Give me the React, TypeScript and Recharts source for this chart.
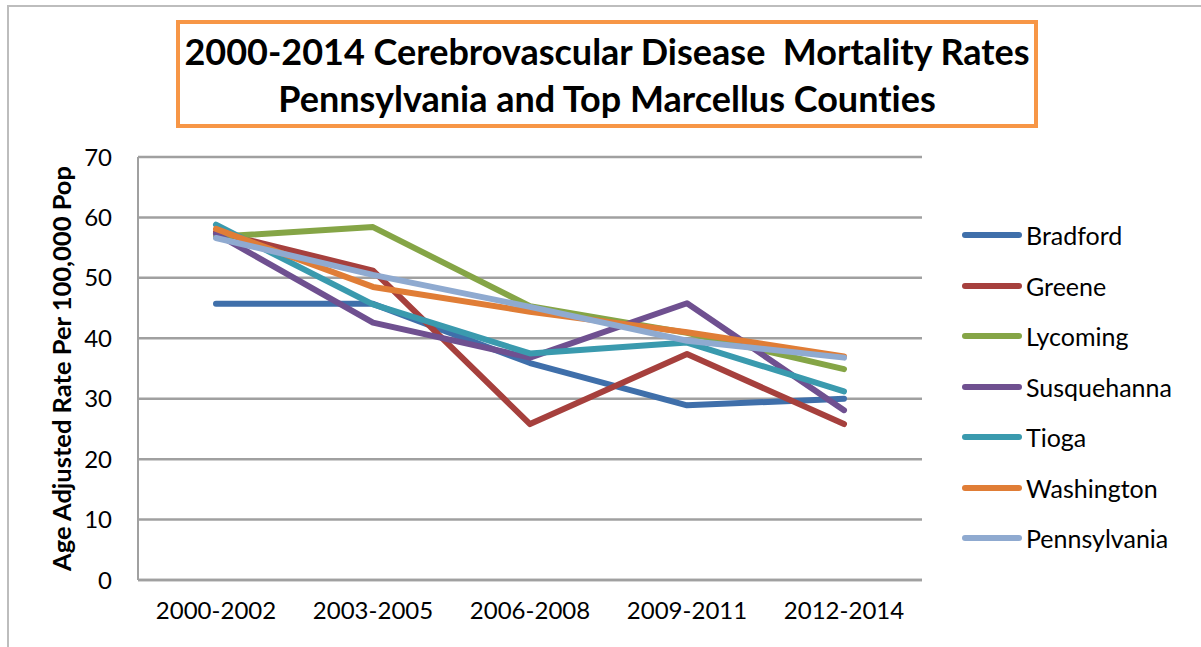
import React from 'react';
import { LineChart, Line, XAxis, YAxis, CartesianGrid, Label } from 'recharts';

const periods = ['2000-2002', '2003-2005', '2006-2008', '2009-2011', '2012-2014'];

const bradford = [45.7, 45.7, 35.9, 28.9, 30.0];
const greene = [57.6, 51.2, 25.8, 37.4, 25.8];
const lycoming = [56.8, 58.4, 45.3, 40.9, 34.9];
const susquehanna = [57.3, 42.6, 36.8, 45.8, 28.1];
const tioga = [58.8, 45.6, 37.5, 39.3, 31.2];
const washington = [58.1, 48.5, 44.4, 41.0, 37.0];
const pennsylvania = [56.6, 50.5, 45.2, 39.6, 36.8];

const yTicks = [0, 10, 20, 30, 40, 50, 60, 70];

const seriesList = [
  { key: 'Bradford', values: bradford, color: '#3F6FAA' },
  { key: 'Greene', values: greene, color: '#A6403D' },
  { key: 'Lycoming', values: lycoming, color: '#85A546' },
  { key: 'Susquehanna', values: susquehanna, color: '#6F5090' },
  { key: 'Tioga', values: tioga, color: '#3A9AAE' },
  { key: 'Washington', values: washington, color: '#E07D36' },
  { key: 'Pennsylvania', values: pennsylvania, color: '#8FAAD0' },
];

const data = periods.map((p, i) => {
  const row: Record<string, string | number> = { period: p };
  seriesList.forEach((s) => {
    row[s.key] = s.values[i];
  });
  return row;
});

const FONT = 'Lato, "Open Sans", sans-serif';

const ChartLegend = () => (
  <div style={{ position: 'absolute', left: 962, top: 210, fontFamily: FONT, fontVariantLigatures: 'none' }}>
    {seriesList.map((s) => (
      <div key={s.key} style={{ display: 'flex', alignItems: 'center', height: 50.5 }}>
        <div style={{ width: 60, height: 6, borderRadius: 3, backgroundColor: s.color }} />
        <span style={{ fontSize: 25, marginLeft: 4, color: '#000' }}>{s.key}</span>
      </div>
    ))}
  </div>
);

export default function App() {
  return (
    <div style={{ position: 'fixed', left: 0, top: 0, width: 1201, height: 647, background: '#fff', overflow: 'hidden' }}>
      <div style={{ position: 'absolute', left: 7, top: 5, width: 1300, height: 800, borderTop: '2px solid #bdbdbd', borderLeft: '2px solid #bdbdbd' }} />
      <div
        style={{
          position: 'absolute', left: 176, top: 20, width: 862, height: 108, boxSizing: 'border-box',
          border: '4px solid #F79646', fontFamily: FONT, fontWeight: 700, fontSize: 36,
          textAlign: 'center', lineHeight: '47px', paddingTop: 4, color: '#000', whiteSpace: 'nowrap',
          fontVariantLigatures: 'none',
        }}
      >
        <div>2000-2014 Cerebrovascular Disease&nbsp; Mortality Rates</div>
        <div>Pennsylvania and Top Marcellus Counties</div>
      </div>
      <div style={{ position: 'absolute', left: 0, top: 0 }}>
        <LineChart width={1201} height={647} data={data} margin={{ top: 157, right: 279, left: 8, bottom: 7 }}>
          <CartesianGrid vertical={false} stroke="#a0a0a0" strokeWidth={2.5} />
          <XAxis
            dataKey="period"
            padding={{ left: 78, right: 78 }}
            height={60}
            tickLine={false}
            tickSize={0}
            tickMargin={22}
            axisLine={{ stroke: '#a0a0a0', strokeWidth: 2.5 }}
            tick={{ fill: '#000', fontSize: 24, fontFamily: FONT }}
          />
          <YAxis
            domain={[0, 70]}
            ticks={yTicks}
            width={130}
            tickLine={false}
            tickSize={0}
            tickMargin={26}
            axisLine={{ stroke: '#a0a0a0', strokeWidth: 2 }}
            tick={{ fill: '#000', fontSize: 24, fontFamily: FONT }}
          >
            <Label
              value="Age Adjusted Rate Per 100,000 Pop"
              angle={-90}
              position="insideLeft"
              offset={54}
              style={{ textAnchor: 'middle', fontSize: 25.5, fontWeight: 700, fontFamily: FONT, fill: '#000' }}
            />
          </YAxis>
          {seriesList.map((s) => (
            <Line
              key={s.key}
              type="linear"
              dataKey={s.key}
              stroke={s.color}
              strokeWidth={6}
              strokeLinecap="round"
              strokeLinejoin="round"
              dot={false}
              isAnimationActive={false}
            />
          ))}
        </LineChart>
      </div>
      <ChartLegend />
    </div>
  );
}
